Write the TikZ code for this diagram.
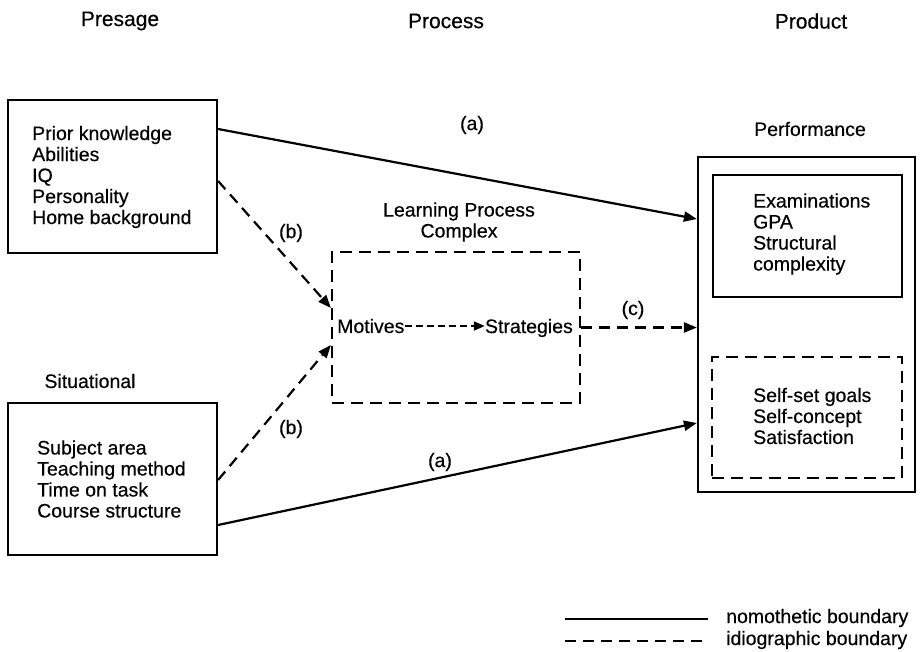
\documentclass[tikz,border=0pt]{standalone}
\usepackage{fontspec}
\setmainfont{Liberation Sans}[FakeBold=0.4]
\usetikzlibrary{arrows.meta}
\begin{document}
\begin{tikzpicture}[x=1pt,y=-1pt,
  every node/.style={font=\fontsize{19.5}{21}\selectfont, inner sep=0pt},
  head/.style={font=\fontsize{21}{24}\selectfont},
  solidbox/.style={draw, line width=2.2pt},
  dashbox/.style={draw, line width=2.2pt, dash pattern=on 12pt off 7pt},
  conn/.style={line width=2.2pt, -{Triangle[length=13pt,width=10pt]}},
  dconn/.style={conn, dash pattern=on 11pt off 7pt},
  sdconn/.style={line width=2pt, dash pattern=on 7pt off 4pt, -{Triangle[length=11pt,width=9pt]}},
  txt/.style={align=left, anchor=west},
  lineleg/.style={line width=2.2pt}]
\useasboundingbox (0,0) rectangle (920,652);

% headers
\node[head] (hpre) at (120,21) {Presage};
\node[head] (hproc) at (446,21) {Process};
\node[head] (hprod) at (811,21) {Product};

% presage box
\node[solidbox, minimum width=209pt, minimum height=153pt] (pres) at (112.5,176.5) {};
\node[txt] (prestxt) at (32,177) {Prior knowledge\\Abilities\\IQ\\Personality\\Home background};

% situational box
\node (sitlab) at (90,381) {Situational};
\node[solidbox, minimum width=209pt, minimum height=152pt] (sit) at (112.5,479) {};
\node[txt] (sittxt) at (37,479) {Subject area\\Teaching method\\Time on task\\Course structure};

% learning process complex
\node[align=center] (lpclab) at (459,222) {Learning Process\\Complex};
\node[dashbox, minimum width=248pt, minimum height=151pt] (lpc) at (456,327.5) {};
\node[anchor=west] (mot) at (337,326) {Motives};
\node[anchor=east] (str) at (573,328) {Strategies};
\draw[sdconn] (mot.east) -- (mot.east -| str.west);

% product
\node (perflab) at (810,129) {Performance};
\node[solidbox, minimum width=217pt, minimum height=335pt] (perf) at (806.5,324.5) {};
\node[solidbox, minimum width=189pt, minimum height=122pt] (exam) at (807.5,236) {};
\node[txt] (examtxt) at (753,234) {Examinations\\GPA\\Structural\\complexity};
\node[dashbox, minimum width=190pt, minimum height=121pt] (selfb) at (807,417.5) {};
\node[txt] (selftxt) at (753,416) {Self-set goals\\Self-concept\\Satisfaction};

% connectors
\draw[conn] ([yshift=47.5pt]pres.east) -- ([yshift=105.5pt]perf.west);
\draw[dconn] ([yshift=-4.5pt]pres.east) -- ([yshift=19.5pt]lpc.west);
\draw[dconn] ([yshift=-1pt]sit.east) -- ([yshift=-17.5pt]lpc.west);
\draw[conn] ([yshift=-46pt]sit.east) -- ([yshift=-98.5pt]perf.west);
\draw[dconn] (lpc.east) -- (lpc.east -| perf.west);

% labels
\node (la1) at (472,125) {(a)};
\node (lb1) at (291,233) {(b)};
\node (lb2) at (291,429) {(b)};
\node (la2) at (440,462) {(a)};
\node (lc) at (633,310) {(c)};

% legend
\coordinate (l1a) at (565,619);
\coordinate (l1b) at (708,619);
\draw[lineleg] (l1a) -- (l1b);
\node[anchor=west] (l1t) at (726,618) {nomothetic boundary};
\coordinate (l2a) at (565,641);
\coordinate (l2b) at (708,641);
\draw[lineleg, dash pattern=on 11pt off 7pt] (l2a) -- (l2b);
\node[anchor=west] (l2t) at (726,640) {idiographic boundary};
\end{tikzpicture}
\end{document}
